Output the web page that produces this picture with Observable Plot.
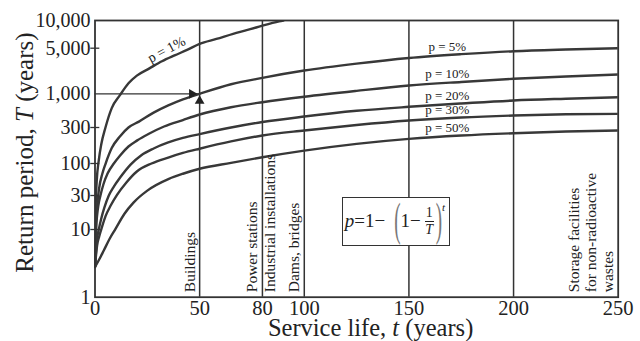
<!DOCTYPE html>
<html>
<head>
<meta charset="utf-8">
<script src="https://cdn.jsdelivr.net/npm/d3@7"></script>
<script src="https://cdn.jsdelivr.net/npm/@observablehq/plot@0.6"></script>
<style>
html, body { margin: 0; padding: 0; background: #fff; }
#wrap { position: relative; width: 640px; height: 341px; overflow: hidden; }
#formula {
  position: absolute; left: 341.7px; top: 196.7px; width: 108.3px; height: 49.3px;
  box-sizing: border-box; border: 1.6px solid #333; background: #fff;
  display: flex; align-items: center; padding-left: 2px;
  font-family: 'Liberation Serif', 'Times New Roman', serif; font-size: 19px; color: #222;
  white-space: nowrap;
}
#formula .paren { display: inline-block; transform: scaleY(2.4); color: #777; }
#formula .p1 { margin-left: 9px; }
#formula .p2 { margin-left: 2px; }
#formula .frac { display: inline-flex; flex-direction: column; align-items: center; font-size: 14px; line-height: 1; margin-left: 4px; }
#formula .bar { width: 9px; border-top: 1px solid #222; margin: 1px 0; }
#formula .sup { align-self: flex-start; font-size: 11px; margin-top: 3px; }
</style>
</head>
<body>
<div id="wrap"></div>
<script>
// ---- data ----
const xTicks = [0, 50, 80, 100, 150, 200, 250];
const yTicks = [1, 10, 30, 100, 300, 1000, 5000, 10000];
const yTickMarks = [10, 30, 100, 300, 5000];
const serviceLives = [50, 80, 100, 150, 200];
const probLabels = ["p = 1%", "p = 5%", "p = 10%", "p = 20%", "p = 30%", "p = 50%"];

// [service life t, return period T]
const p1 = [[0,2.8],[0.3,20],[0.8,50],[1.8,110],[3,180],[5,300],[8,600],[12,960],[16,1450],[20,1900],[26,2450],[32,3150],[38,3870],[44,4700],[50,5580],[58,6300],[66,7170],[77,8400],[88,9800],[90,10000]];
const p5 = [[0,2.8],[0.5,12],[1,21],[2,40],[3.5,68],[5,98],[8,160],[12,230],[16,300],[21,370],[28,510],[35,660],[42,820],[50,1000],[65,1400],[80,1758],[100,2275],[125,2900],[150,3536],[175,4050],[200,4500],[225,4780],[250,5000]];
const p10 = [[0,2.8],[0.5,10],[1,15.8],[1.6,21.7],[2.6,30],[4,45.4],[6,68.6],[9,100],[12,128],[16,168],[20,201],[26,250],[33,311],[42,392],[50,477],[65,619],[80,741],[100,902],[125,1110],[150,1338],[175,1519],[200,1697],[225,1838],[250,1975]];
const p20 = [[0,2.8],[1,7.4],[1.8,10],[3,14.3],[4.5,20.4],[6.6,30],[9,42],[12,59],[17,96],[22,128],[28,158],[35,190],[42,218],[50,245],[65,300],[80,365],[100,444],[125,545],[150,628],[175,707],[200,787],[225,839],[250,885]];
const p30 = [[0,2.85],[1,5.8],[2,7.9],[3.4,11],[5,15.3],[7.5,21.7],[10.6,31],[15,49],[20,74],[27,100],[35,120],[42,138],[50,157],[65,196],[80,235],[100,274],[125,328],[150,385],[175,429],[200,460],[225,481],[250,489]];
const p50 = [[0,2.8],[2,3.6],[4.2,4.9],[7,7.3],[9.8,10.2],[14,16.5],[18.5,24],[25,36],[35.3,56],[42,68],[50,82],[65,102],[80,121],[100,148],[125,182],[150,212],[175,235],[200,252],[225,265],[250,274]];

const lifeLabelsLeft = [[50, "Buildings"], [80, "Power stations"], [100, "Dams, bridges"], [250, "Storage facilities\nfor non-radioactive\nwastes"]];
const lifeLabelsRight = [[80, "Industrial installations"]];
const arrowTarget = [[50, 1000]];
const yAxisLabel = "Return period, T (years)";
const xAxisLabel = "Service life, t (years)";

// ---- build table ----
const seriesPts = [p1, p5, p10, p20, p30, p50];
const rows = seriesPts.flatMap((pts, i) => pts.map(([t, T]) => ({p: probLabels[i], t, T})));
const rightLabelRows = rows.filter(d => d.t === 175);
const firstLabelRow = rows.filter(d => d.p === probLabels[0] && d.t === 32);
const fmt = d3.format(",");

const serif = "'Liberation Serif', 'Times New Roman', serif";
const ink = "#333";

const chart = Plot.plot({
  width: 640, height: 341,
  marginLeft: 94.5, marginRight: 22.3, marginTop: 20, marginBottom: 44.3,
  style: {fontFamily: serif, background: "#fff", color: "#222", overflow: "visible"},
  x: {domain: [0, 250]},
  y: {type: "log", axis: null, domain: yTicks, range: [296.7, 229, 195, 163, 127, 93.3, 47.7, 20]},
  marks: [
    Plot.ruleX(serviceLives, {stroke: ink, strokeWidth: 1.5}),
    Plot.ruleY(arrowTarget, {y: d => d[1], x1: () => 0, x2: d => d[0], stroke: ink, strokeWidth: 1.3}),
    Plot.line(rows, {x: "t", y: "T", z: "p", stroke: "#383838", strokeWidth: 2.4, curve: "monotone-x", clip: true}),
    Plot.dot(arrowTarget, {x: d => d[0], y: d => d[1], symbol: "triangle", r: 3.6, rotate: 90, dx: -7.8, fill: "#222", stroke: "none"}),
    Plot.dot(arrowTarget, {x: d => d[0], y: d => d[1], symbol: "triangle", r: 3.6, dy: 7.1, fill: "#222", stroke: "none"}),
    Plot.text(rightLabelRows.filter(d => d.p !== probLabels[0]), {x: "t", y: "T", text: "p", dx: -14, dy: -3.5, lineAnchor: "bottom", fontSize: 13}),
    Plot.text(firstLabelRow, {x: "t", y: "T", text: "p", dx: 4.5, dy: -11.8, rotate: -28, fontSize: 14}),
    Plot.text(lifeLabelsLeft, {x: d => d[0], y: () => 1, text: d => d[1], rotate: -90, textAnchor: "start", lineAnchor: "bottom", dx: -5, dy: -5, fontSize: 15.5, lineHeight: 1.1}),
    Plot.text(lifeLabelsRight, {x: d => d[0], y: () => 1, text: d => d[1], rotate: -90, textAnchor: "start", lineAnchor: "top", dx: 1.5, dy: -5, fontSize: 15.5}),
    // short tick marks crossing the y axis
    Plot.tickY(yTickMarks, {y: d => d, insetRight: 514.2, dx: -4.2, stroke: ink, strokeWidth: 1.3}),
    // y tick labels
    Plot.text(yTicks, {y: d => d, frameAnchor: "left", text: d => fmt(d), textAnchor: "end", dx: -4.5, fontSize: 20}),
    Plot.axisX({ticks: xTicks, tickSize: 0, tickPadding: 3, fontSize: 20.5, label: null}),
    Plot.frame({stroke: ink, strokeWidth: 1.8}),
    Plot.text([yAxisLabel], {frameAnchor: "left", rotate: -90, textAnchor: "middle", lineAnchor: "bottom", dx: -62.5, dy: -6.3, fontSize: 25}),
    Plot.text([xAxisLabel], {frameAnchor: "bottom", textAnchor: "middle", lineAnchor: "bottom", dx: 14, dy: 38.8, fontSize: 24.5})
  ]
});

// italicise the variable letters in the axis titles
d3.select(chart).selectAll("text").each(function() {
  const s = this.textContent;
  let parts = null;
  if (s === yAxisLabel) parts = ["Return period, ", "T", " (years)"];
  if (s === xAxisLabel) parts = ["Service life, ", "t", " (years)"];
  if (parts) {
    const el = d3.select(this).text(null);
    el.append("tspan").text(parts[0]);
    el.append("tspan").attr("font-style", "italic").text(parts[1]);
    el.append("tspan").text(parts[2]);
  }
});

const wrap = document.getElementById("wrap");
wrap.appendChild(chart);

const f = document.createElement("div");
f.id = "formula";
f.innerHTML = '<i>p</i><span>=</span><span>1</span><span>\u2212</span><span class="paren p1">(</span><span>1</span><span>\u2212</span><span class="frac"><span>1</span><span class="bar"></span><i>T</i></span><span class="paren p2">)</span><i class="sup">t</i>';
wrap.appendChild(f);
</script>
</body>
</html>
